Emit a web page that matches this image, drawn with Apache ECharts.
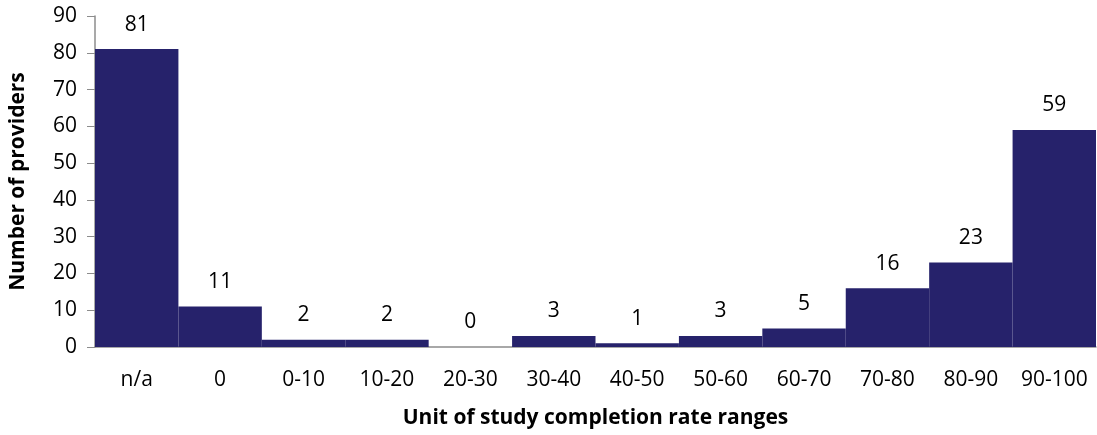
<!DOCTYPE html>
<html><head><meta charset="utf-8">
<script src="https://cdn.jsdelivr.net/npm/echarts@6/dist/echarts.min.js"></script>
<style>html,body{margin:0;padding:0;background:#fff}#c{width:1097px;height:435px}</style>
</head><body><div id="c"></div>
<script>
var categories = ['n/a','0','0-10','10-20','20-30','30-40','40-50','50-60','60-70','70-80','80-90','90-100'];
var values = [81,11,2,2,0,3,1,3,5,16,23,59];
var yTicks = {min:0, max:90, interval:10};
var font = 'Open Sans';
var chart = echarts.init(document.getElementById('c'));
chart.setOption({
  animation:false,
  grid:{left:92, right:1, top:16, bottom:88},
  xAxis:{type:'category', data:categories,
    axisLine:{lineStyle:{color:'#8c8c8c', width:1.5}},
    axisTick:{show:false},
    axisLabel:{color:'#000', fontFamily:font, fontSize:21, margin:23, interval:0},
    name:'Unit of study completion rate ranges', nameLocation:'middle', nameGap:61,
    nameTextStyle:{color:'#000', fontFamily:font, fontSize:21, fontWeight:'bold'}
  },
  yAxis:{type:'value', min:yTicks.min, max:yTicks.max, interval:yTicks.interval,
    splitLine:{show:false},
    axisLine:{show:true, lineStyle:{color:'#8c8c8c', width:1.5}},
    axisTick:{show:true, length:8, lineStyle:{color:'#8c8c8c'}},
    axisLabel:{color:'#000', fontFamily:font, fontSize:21, margin:18},
    name:'Number of providers', nameLocation:'middle', nameGap:66,
    nameTextStyle:{color:'#000', fontFamily:font, fontSize:21, fontWeight:'bold'}
  },
  series:[{type:'bar', data:values, barCategoryGap:'0%', barGap:'0%',
    itemStyle:{color:'#26226b'},
    label:{show:true, position:'top', distance:14, color:'#000', fontFamily:font, fontSize:21}
  }]
});
</script></body></html>
